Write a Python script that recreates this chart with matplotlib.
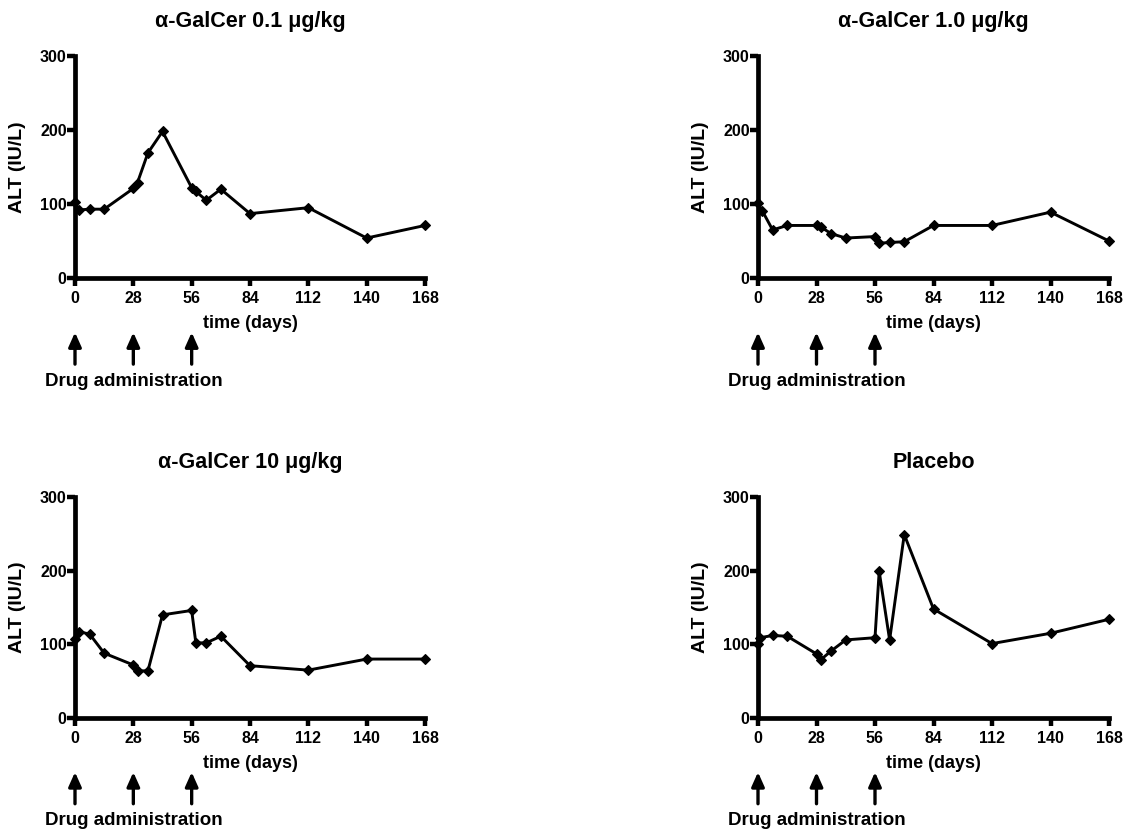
import matplotlib
matplotlib.use("Agg")
import matplotlib.pyplot as plt
import matplotlib.transforms as mtransforms

plt.rcParams['font.family'] = ['Liberation Sans', 'DejaVu Sans']
plt.rcParams['font.weight'] = 'bold'

# ALT time courses per dose group
days_01 = [0, 2, 7, 14, 28, 30, 35, 42, 56, 58, 63, 70, 84, 112, 140, 168]
alt_01 = [103, 92, 93, 93, 121, 129, 169, 198, 122, 117, 105, 120, 87, 95, 54, 71]

days_10 = [0, 2, 7, 14, 28, 30, 35, 42, 56, 58, 63, 70, 84, 112, 140, 168]
alt_10 = [101, 91, 65, 71, 71, 69, 60, 54, 56, 47, 48, 49, 71, 71, 89, 50]

days_100 = [0, 2, 7, 14, 28, 30, 35, 42, 56, 58, 63, 70, 84, 112, 140, 168]
alt_100 = [107, 117, 114, 88, 72, 64, 64, 140, 146, 102, 102, 111, 71, 65, 80, 80]

days_pl = [0, 1, 7, 14, 28, 30, 35, 42, 56, 58, 63, 70, 84, 112, 140, 168]
alt_pl = [101, 109, 112, 111, 87, 79, 91, 106, 109, 199, 106, 249, 148, 101, 115, 134]

titles = ['\u03b1-GalCer 0.1 \u03bcg/kg', '\u03b1-GalCer 1.0 \u03bcg/kg',
          '\u03b1-GalCer 10 \u03bcg/kg', 'Placebo']
series = [(days_01, alt_01), (days_10, alt_10), (days_100, alt_100), (days_pl, alt_pl)]

x_ticks = [0, 28, 56, 84, 112, 140, 168]
y_ticks = [0, 100, 200, 300]
dose_days = [0, 28, 56]

W, H = 1129, 830
fig = plt.figure(figsize=(W / 100, H / 100), dpi=100)

rects = [
    [75 / W, 1 - 278 / H, 350 / W, 222 / H],
    [758 / W, 1 - 278 / H, 351 / W, 222 / H],
    [75 / W, 1 - 718 / H, 350 / W, 221 / H],
    [758 / W, 1 - 718 / H, 351 / W, 221 / H],
]

for rect, title, (d, v) in zip(rects, titles, series):
    ax = fig.add_axes(rect)
    ax.plot(d, v, color='black', linewidth=2.1, marker='D', markersize=5.4,
            markeredgewidth=0.8, clip_on=False, zorder=3)

    ax.set_xlim(0, 168)
    ax.set_ylim(0, 300)
    ax.set_xticks(x_ticks)
    ax.set_yticks(y_ticks)
    for s in ['top', 'right']:
        ax.spines[s].set_visible(False)
    for s in ['left', 'bottom']:
        ax.spines[s].set_linewidth(3.4)
        ax.spines[s].set_capstyle('projecting')
    ax.tick_params(axis='both', direction='out', length=5.5, width=3.2,
                   labelsize=11.5)
    ax.tick_params(axis='y', pad=0.5)
    ax.tick_params(axis='x', pad=4)
    for lab in ax.get_xticklabels() + ax.get_yticklabels():
        lab.set_fontweight('bold')

    ax.text(0.5, 1.155, title, transform=ax.transAxes, ha='center',
            va='center', fontsize=15.5, fontweight='bold')
    ax.text(-0.163, 0.5, 'ALT (IU/L)', transform=ax.transAxes, rotation=90,
            ha='center', va='center', fontsize=14, fontweight='bold')
    ax.text(0.5, -0.205, 'time (days)', transform=ax.transAxes, ha='center',
            va='center', fontsize=13, fontweight='bold')

    # dosing arrows under the time axis
    trans = mtransforms.blended_transform_factory(ax.transData, ax.transAxes)
    for dd in dose_days:
        ax.annotate('', xy=(dd, -0.245), xytext=(dd, -0.388),
                    xycoords=trans, textcoords=trans, annotation_clip=False,
                    arrowprops=dict(arrowstyle='-|>,head_width=0.38,head_length=0.85',
                                    color='black', linewidth=2.4,
                                    shrinkA=0, shrinkB=0))
    ax.text(28, -0.465, 'Drug administration', transform=trans, ha='center',
            va='center', fontsize=13.5, fontweight='bold')

fig.savefig('out.png', dpi=100)
